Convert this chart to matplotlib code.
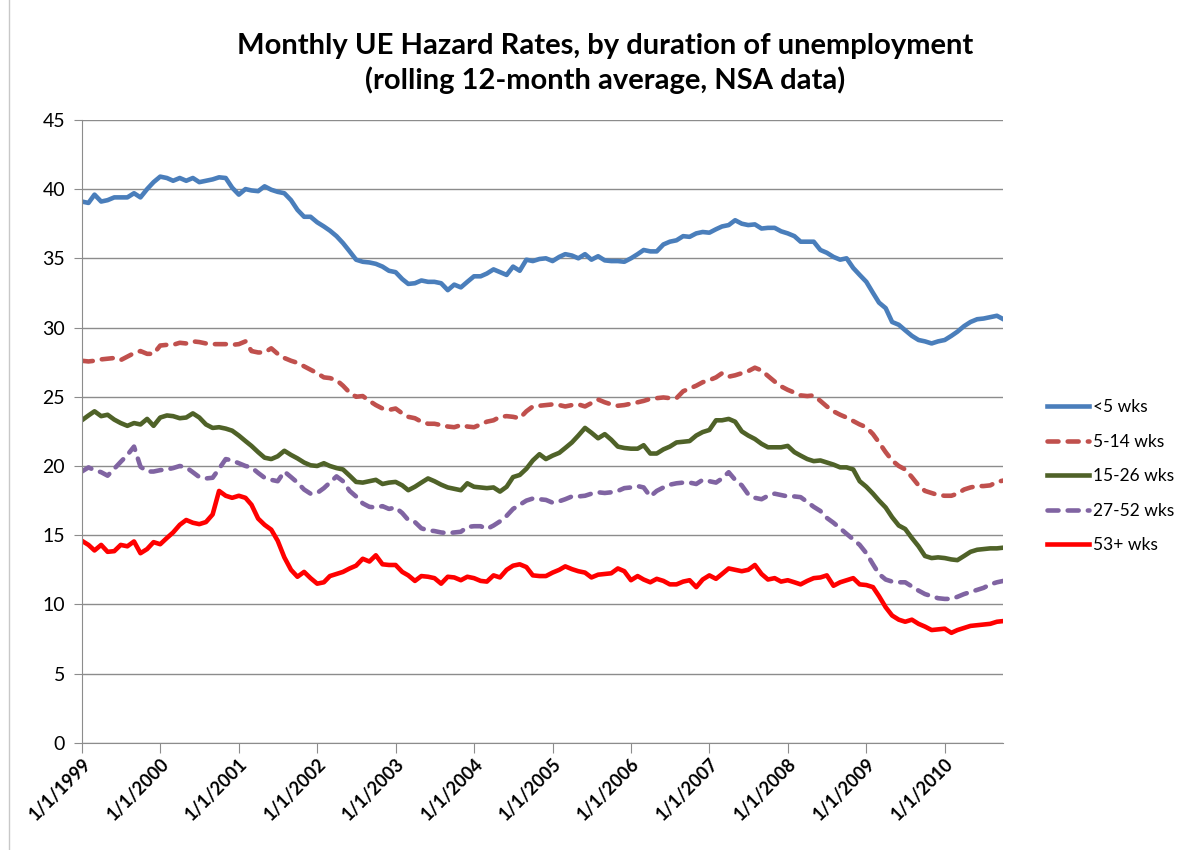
import pandas as pd
import matplotlib
matplotlib.use("Agg")
import matplotlib.pyplot as plt
import matplotlib.dates as mdates
from matplotlib.ticker import FuncFormatter

plt.rcParams['font.family'] = ['Lato', 'DejaVu Sans']

# monthly values, Jan 1999 .. Oct 2010
dates = pd.date_range("1999-01-01", periods=142, freq="MS")

lt5 = [39.1, 39.0, 39.6, 39.1, 39.2, 39.4, 39.4, 39.4, 39.7, 39.4, 40.0, 40.5,
       40.9, 40.8, 40.6, 40.8, 40.6, 40.8, 40.5, 40.6, 40.7, 40.85, 40.8, 40.1,
       39.6, 40.0, 39.9, 39.85, 40.2, 39.95, 39.8, 39.7, 39.2, 38.5, 38.0, 38.0,
       37.6, 37.3, 37.0, 36.6, 36.1, 35.5, 34.9, 34.75, 34.7, 34.6, 34.4, 34.1,
       34.0, 33.5, 33.15, 33.2, 33.4, 33.3, 33.3, 33.2, 32.7, 33.1, 32.9, 33.3,
       33.7, 33.7, 33.9, 34.2, 34.0, 33.8, 34.4, 34.1, 34.9, 34.8, 34.95, 35.0,
       34.8, 35.1, 35.3, 35.2, 35.0, 35.3, 34.9, 35.15, 34.85, 34.8, 34.8, 34.75,
       35.0, 35.3, 35.6, 35.5, 35.5, 36.0, 36.2, 36.3, 36.6, 36.55, 36.8, 36.9,
       36.85, 37.1, 37.3, 37.4, 37.75, 37.5, 37.4, 37.45, 37.15, 37.2, 37.2, 36.95,
       36.8, 36.6, 36.2, 36.2, 36.2, 35.6, 35.4, 35.1, 34.9, 35.0, 34.3, 33.8,
       33.3, 32.5, 31.8, 31.4, 30.4, 30.2, 29.8, 29.4, 29.1, 29.0, 28.85, 29.0,
       29.1, 29.4, 29.7, 30.1, 30.4, 30.6, 30.65, 30.75, 30.85, 30.6]

w5_14 = [27.6, 27.55, 27.6, 27.7, 27.75, 27.8, 27.65, 27.9, 28.15, 28.3, 28.1, 28.1,
         28.7, 28.75, 28.75, 28.9, 28.85, 29.0, 28.95, 28.85, 28.8, 28.8, 28.8, 28.75,
         28.8, 29.0, 28.3, 28.2, 28.2, 28.5, 28.1, 27.8, 27.6, 27.45, 27.2, 26.95,
         26.7, 26.4, 26.35, 26.2, 25.8, 25.3, 25.0, 25.05, 24.7, 24.4, 24.15, 24.05,
         24.15, 23.8, 23.55, 23.45, 23.2, 23.05, 23.05, 22.95, 22.85, 22.8, 22.95, 22.85,
         22.8, 23.0, 23.2, 23.3, 23.55, 23.6, 23.55, 23.45, 23.95, 24.3, 24.35, 24.4,
         24.45, 24.4, 24.3, 24.4, 24.45, 24.3, 24.55, 24.8, 24.6, 24.45, 24.35, 24.4,
         24.5, 24.6, 24.7, 24.85, 24.9, 24.95, 24.9, 24.9, 25.4, 25.6, 25.8, 26.05,
         26.2, 26.4, 26.7, 26.45, 26.55, 26.7, 26.85, 27.1, 26.9, 26.5, 26.1, 25.75,
         25.5, 25.3, 25.1, 25.05, 25.1, 24.7, 24.3, 23.95, 23.7, 23.5, 23.25, 23.0,
         22.8, 22.3, 21.7, 21.0, 20.4, 20.0, 19.75, 19.2, 18.6, 18.2, 18.05, 17.9,
         17.85, 17.85, 18.0, 18.3, 18.45, 18.55, 18.55, 18.6, 18.85, 18.95]

w15_26 = [23.3, 23.65, 23.95, 23.6, 23.7, 23.35, 23.1, 22.9, 23.1, 23.0, 23.4, 22.9,
          23.5, 23.65, 23.6, 23.45, 23.5, 23.8, 23.5, 23.0, 22.75, 22.8, 22.7, 22.55,
          22.2, 21.8, 21.45, 21.0, 20.6, 20.5, 20.7, 21.1, 20.8, 20.55, 20.25, 20.05,
          20.0, 20.2, 20.0, 19.85, 19.75, 19.3, 18.85, 18.8, 18.9, 19.0, 18.7, 18.8,
          18.85, 18.6, 18.25, 18.5, 18.8, 19.1, 18.9, 18.65, 18.45, 18.35, 18.25, 18.75,
          18.5, 18.45, 18.4, 18.45, 18.15, 18.5, 19.2, 19.35, 19.8, 20.4, 20.85, 20.5,
          20.75, 20.95, 21.3, 21.7, 22.2, 22.75, 22.4, 22.0, 22.3, 21.9, 21.4, 21.3,
          21.25, 21.25, 21.5, 20.9, 20.9, 21.2, 21.4, 21.7, 21.75, 21.8, 22.2, 22.45,
          22.6, 23.3, 23.3, 23.4, 23.2, 22.5, 22.2, 21.95, 21.6, 21.35, 21.35, 21.35,
          21.45, 21.0, 20.75, 20.5, 20.35, 20.4, 20.25, 20.1, 19.9, 19.9, 19.75, 18.9,
          18.5, 18.0, 17.5, 17.0, 16.3, 15.7, 15.45, 14.8, 14.2, 13.5, 13.35, 13.4,
          13.35, 13.25, 13.2, 13.5, 13.8, 13.95, 14.0, 14.05, 14.05, 14.1]

w27_52 = [19.6, 19.9, 19.7, 19.55, 19.3, 19.8, 20.3, 20.8, 21.4, 19.95, 19.6, 19.6,
          19.7, 19.75, 19.85, 20.0, 19.9, 19.55, 19.2, 19.1, 19.15, 19.8, 20.5, 20.4,
          20.2, 20.0, 19.9, 19.5, 19.15, 19.0, 18.9, 19.6, 19.2, 18.8, 18.3, 18.0,
          18.05, 18.4, 18.8, 19.25, 18.9, 18.2, 17.8, 17.3, 17.05, 17.0, 17.1, 16.9,
          17.0, 16.6, 16.1, 15.95, 15.5, 15.35, 15.3, 15.2, 15.15, 15.2, 15.25, 15.6,
          15.65, 15.65, 15.45, 15.7, 16.0, 16.4, 16.9, 17.2, 17.5, 17.65, 17.6, 17.55,
          17.35, 17.45, 17.6, 17.8, 17.8, 17.85, 18.0, 18.1, 18.05, 18.1, 18.2, 18.4,
          18.45, 18.55, 18.45, 17.8, 18.2, 18.45, 18.65, 18.75, 18.8, 18.8, 18.7, 19.0,
          18.9, 18.8, 19.1, 19.55, 19.0, 18.6, 17.95, 17.7, 17.6, 17.85, 18.0, 17.9,
          17.8, 17.8, 17.75, 17.4, 17.05, 16.75, 16.25, 15.9, 15.5, 15.1, 14.7, 14.3,
          13.7, 12.9, 12.2, 11.8, 11.65, 11.6, 11.6, 11.3, 11.0, 10.75, 10.6, 10.45,
          10.4, 10.4, 10.55, 10.75, 10.9, 11.05, 11.2, 11.45, 11.6, 11.7]

w53 = [14.6, 14.3, 13.9, 14.3, 13.8, 13.85, 14.3, 14.2, 14.55, 13.7, 14.0, 14.5,
       14.35, 14.8, 15.2, 15.75, 16.1, 15.9, 15.8, 15.95, 16.5, 18.2, 17.85, 17.7,
       17.85, 17.7, 17.2, 16.2, 15.75, 15.4, 14.6, 13.4, 12.5, 12.0, 12.35, 11.9,
       11.5, 11.6, 12.05, 12.2, 12.35, 12.6, 12.8, 13.3, 13.1, 13.55, 12.9, 12.85,
       12.85, 12.35, 12.1, 11.7, 12.05, 12.0, 11.9, 11.5, 12.0, 11.95, 11.75, 12.0,
       11.9, 11.7, 11.65, 12.1, 11.95, 12.5, 12.8, 12.9, 12.7, 12.1, 12.05, 12.05,
       12.3, 12.5, 12.75, 12.55, 12.4, 12.3, 11.95, 12.15, 12.2, 12.25, 12.6, 12.4,
       11.75, 12.05, 11.8, 11.6, 11.85, 11.7, 11.45, 11.45, 11.65, 11.75, 11.25, 11.8,
       12.1, 11.85, 12.2, 12.6, 12.5, 12.4, 12.5, 12.85, 12.2, 11.8, 11.9, 11.65,
       11.75, 11.6, 11.45, 11.7, 11.9, 11.95, 12.1, 11.35, 11.6, 11.75, 11.9, 11.45,
       11.4, 11.25, 10.6, 9.8, 9.2, 8.9, 8.75, 8.9, 8.6, 8.4, 8.15, 8.2,
       8.25, 7.95, 8.15, 8.3, 8.45, 8.5, 8.55, 8.6, 8.75, 8.8]

labels = ["<5 wks", "5-14 wks", "15-26 wks", "27-52 wks", "53+ wks"]
series = [lt5, w5_14, w15_26, w27_52, w53]
colors = ["#4A7EBB", "#C0504D", "#4F6228", "#8064A2", "#FF0000"]
dashed = [False, True, False, True, False]

fig = plt.figure(figsize=(11.86, 8.5), dpi=100)
ax = fig.add_axes([0.069, 0.126, 0.777, 0.733])

for vals, lab, c, d in zip(series, labels, colors, dashed):
    if d:
        ax.plot(dates, vals, color=c, lw=3.3, label=lab,
                dashes=(2.4, 2.0), dash_capstyle="round", solid_joinstyle="round")
    else:
        ax.plot(dates, vals, color=c, lw=3.3, label=lab, solid_joinstyle="round")

ax.set_ylim(0, 45)
ax.set_yticks(range(0, 46, 5))
ax.set_xlim(dates[0], dates[-1])
ax.xaxis.set_major_locator(mdates.YearLocator())
ax.xaxis.set_major_formatter(FuncFormatter(
    lambda x, pos: "{d.month}/{d.day}/{d.year}".format(d=mdates.num2date(x))))

ax.grid(axis="y", color="#8c8c8c", lw=1)
ax.set_axisbelow(True)
for s in ["top", "right"]:
    ax.spines[s].set_visible(False)
for s in ["left", "bottom"]:
    ax.spines[s].set_color("#8c8c8c")
ax.tick_params(axis="y", length=6, color="#8c8c8c", labelsize=14, pad=6)
ax.tick_params(axis="x", length=7, color="#8c8c8c", labelsize=13, pad=2)
for t in ax.get_xticklabels():
    t.set_rotation(45)
    t.set_ha("right")
    t.set_rotation_mode("anchor")
    t.set_fontweight("bold")

fig.suptitle("Monthly UE Hazard Rates, by duration of unemployment\n"
             "(rolling 12-month average, NSA data)",
             x=0.51, y=0.961, fontsize=21, fontweight="bold", linespacing=1.3)

ax.legend(loc="upper left", bbox_to_anchor=(1.03, 0.577), frameon=False,
          fontsize=12.5, handlelength=2.45, labelspacing=1.07, handletextpad=0.2)

fig.add_artist(plt.Line2D([0.008, 0.008], [0, 1], color="#c8c8c8", lw=1))

fig.savefig("out.png", dpi=100)
